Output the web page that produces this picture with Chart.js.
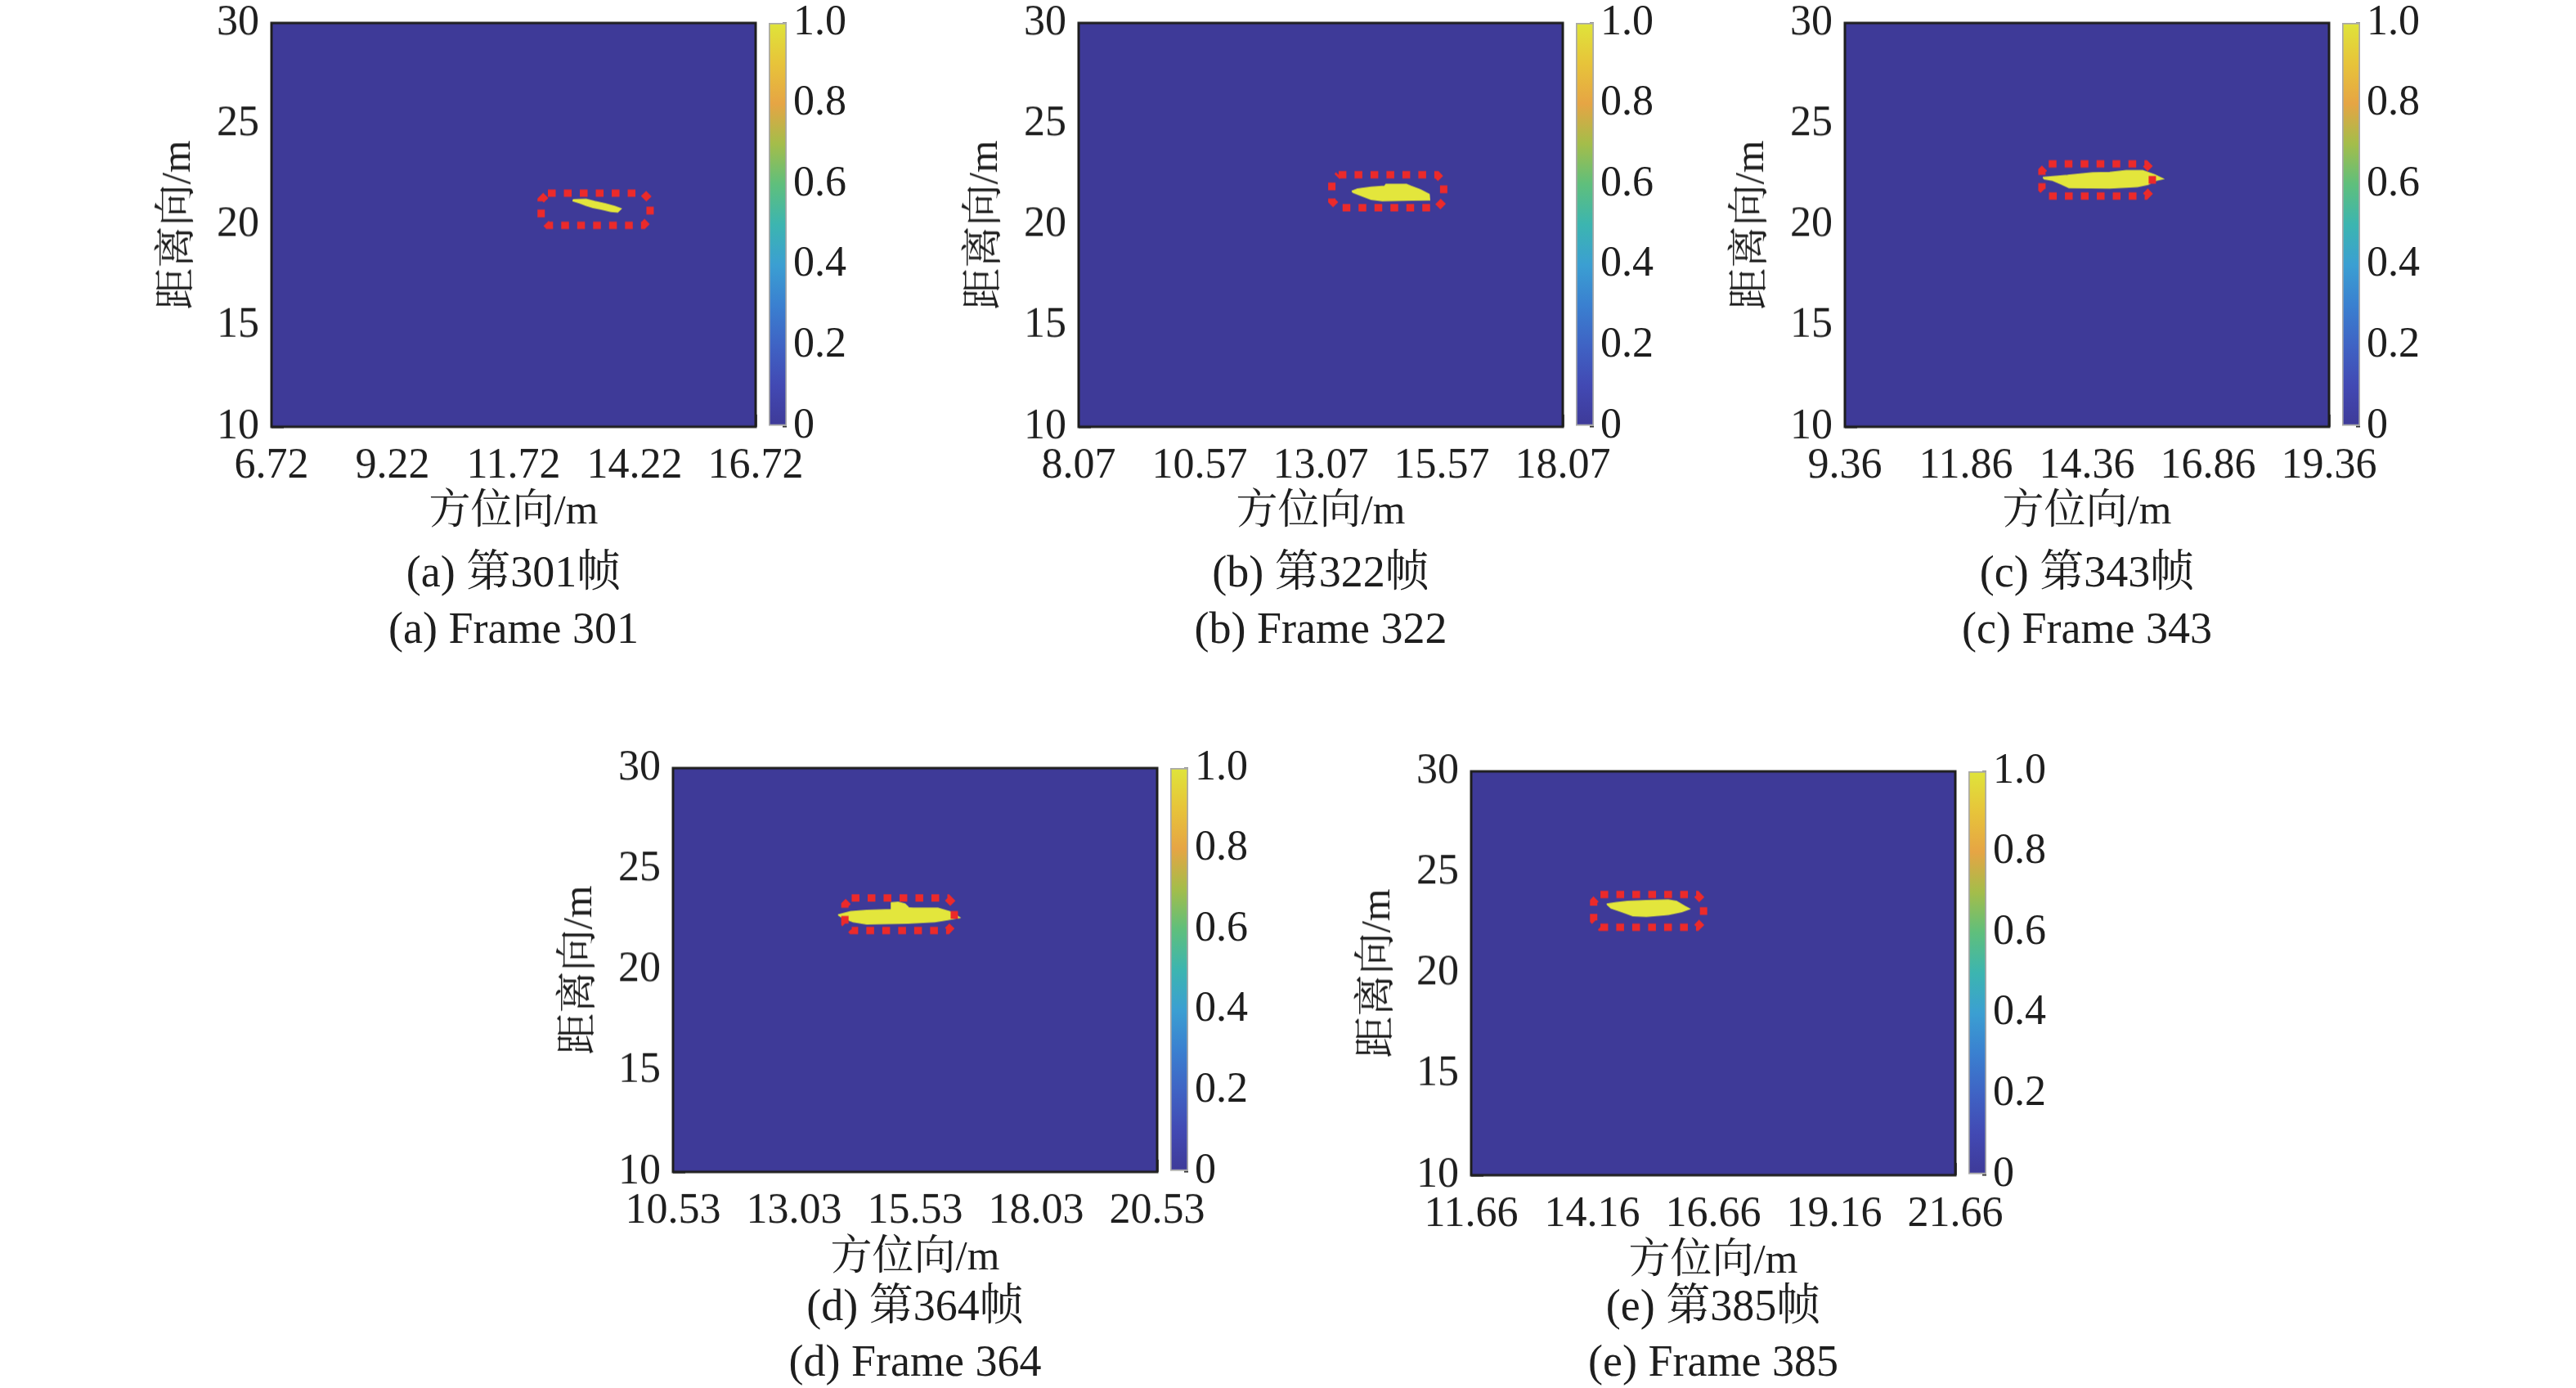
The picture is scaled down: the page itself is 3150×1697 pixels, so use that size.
<!DOCTYPE html>
<html>
<head>
<meta charset="utf-8">
<script src="https://cdn.jsdelivr.net/npm/chart.js@4.4.1/dist/chart.umd.min.js"></script>
<style>
  html, body { margin: 0; padding: 0; background: #fff; }
  body { width: 3150px; height: 1697px; position: relative; overflow: hidden;
         font-family: "Liberation Serif", "Noto Serif CJK SC", "Noto Sans CJK SC", serif; color: #1e1e1e; }
  .holder { position: absolute; }
  .cap { position: absolute; width: 800px; text-align: center; font-size: 54px; line-height: 60px; white-space: nowrap; }
</style>
</head>
<body>
<script>
// Five radar frames: binary detection map (range vs azimuth) with the target
// blob, a dotted red box round it and a parula colour bar on the right.

const LETTERS = ["a", "b", "c", "d", "e"];
const FRAMES = [301, 322, 343, 364, 385];
const Y_TICKS = [10, 15, 20, 25, 30];
const CB_TICKS = [0, 0.2, 0.4, 0.6, 0.8, 1.0];

const X_TICKS_A = [6.72, 9.22, 11.72, 14.22, 16.72];
const X_TICKS_B = [8.07, 10.57, 13.07, 15.57, 18.07];
const X_TICKS_C = [9.36, 11.86, 14.36, 16.86, 19.36];
const X_TICKS_D = [10.53, 13.03, 15.53, 18.03, 20.53];
const X_TICKS_E = [11.66, 14.16, 16.66, 19.16, 21.66];

// dotted box round the target: [x left, x right, y bottom, y top]
const BOX_A = [12.29, 14.54, 19.98, 21.57];
const BOX_B = [13.30, 15.61, 20.85, 22.48];
const BOX_C = [13.43, 15.71, 21.43, 23.02];
const BOX_D = [14.08, 16.34, 21.96, 23.57];
const BOX_E = [14.19, 16.46, 22.28, 23.90];

// outline of the detected cells (value 1), [azimuth m, range m]
const TARGET_A = [[12.95, 21.25], [13.22, 21.27], [13.40, 21.16], [13.61, 21.05], [13.81, 20.91], [13.94, 20.80],
  [13.87, 20.64], [13.73, 20.67], [13.53, 20.78], [13.36, 20.86], [13.21, 20.97], [13.08, 21.09], [12.95, 21.19]];
const TARGET_B = [[13.71, 21.67], [13.83, 21.78], [14.11, 21.87], [14.39, 21.92], [14.42, 22.01], [14.84, 22.01],
  [14.93, 21.92], [15.13, 21.74], [15.31, 21.51], [15.32, 21.24], [14.96, 21.23], [14.34, 21.20], [14.11, 21.27],
  [13.89, 21.47], [13.75, 21.60]];
const TARGET_C = [[13.45, 22.35], [13.96, 22.45], [14.47, 22.58], [14.83, 22.60], [15.17, 22.69], [15.51, 22.69],
  [15.76, 22.48], [15.93, 22.28], [15.79, 22.21], [15.62, 22.01], [15.40, 21.90], [14.83, 21.83], [13.99, 21.85],
  [13.82, 22.04], [13.65, 22.21], [13.48, 22.28]];
const TARGET_D = [[13.94, 22.73], [14.20, 22.89], [14.53, 22.95], [15.04, 22.99], [15.04, 23.33], [15.18, 23.36],
  [15.32, 23.27], [15.38, 23.13], [15.27, 23.09], [15.49, 23.06], [16.00, 23.06], [16.28, 22.86], [16.45, 22.59],
  [16.28, 22.52], [15.94, 22.39], [15.38, 22.32], [14.53, 22.28], [14.25, 22.39], [14.03, 22.59]];
const TARGET_E = [[14.46, 23.43], [14.66, 23.50], [14.89, 23.56], [15.28, 23.60], [15.73, 23.63], [15.90, 23.56],
  [16.07, 23.32], [16.17, 23.19], [16.01, 23.05], [15.73, 22.91], [15.28, 22.82], [15.00, 22.85], [14.77, 23.05],
  [14.55, 23.23]];

const X_TICKS = [X_TICKS_A, X_TICKS_B, X_TICKS_C, X_TICKS_D, X_TICKS_E];
const BOXES = [BOX_A, BOX_B, BOX_C, BOX_D, BOX_E];
const TARGETS = [TARGET_A, TARGET_B, TARGET_C, TARGET_D, TARGET_E];

// page layout (pixels)
const PLOT_W = 592, PLOT_H = 493, Y_AXIS_W = 144, PAD_TOP = 80, PAD_RIGHT = 120;
const CB_GAP = 16, CB_W = 22, CB_AXIS_W = 100, CB_PAD = 80;
const SLOTS = [
  { left: 332, top: 28, row: 0 },
  { left: 1319, top: 28, row: 0 },
  { left: 2256, top: 28, row: 0 },
  { left: 823, top: 939, row: 1 },
  { left: 1799, top: 943, row: 1 },
];
// axis-title gap below the plot, and caption centre lines on the page
const ROWS = [{ title: 105, cap1: 699, cap2: 768 }, { title: 106, cap1: 1596, cap2: 1664 }];

const INK = "#1e1e1e";
const BG = "#3e3a98";
const YELLOW = "#e3e63c";
const RED = "#ec2a2a";
const FONT = "'Liberation Serif', 'Noto Serif CJK SC', 'Noto Sans CJK SC', serif";
const PARULA = [
  [0.0, "#3e3a98"], [0.1, "#4249b3"], [0.2, "#3f63c4"], [0.3, "#3a80d0"], [0.4, "#3b9fd2"],
  [0.5, "#3cb5b0"], [0.6, "#5fbf7c"], [0.7, "#a4bd4a"], [0.8, "#e6a544"], [0.9, "#e7c43a"], [1.0, "#dfe43a"],
];

const tickFont = { family: FONT, size: 52 };
const titleFont = { family: FONT, size: 51 };

const framePlugin = {
  id: "frame",
  afterDatasetsDraw(chart) {
    const { ctx, chartArea: a } = chart;
    ctx.save();
    ctx.strokeStyle = INK;
    ctx.lineWidth = 3;
    ctx.strokeRect(a.left, a.top, a.right - a.left, a.bottom - a.top);
    ctx.restore();
  },
};

const toPts = (arr) => arr.map(([x, y]) => ({ x, y }));
const closed = (pts) => pts.concat([pts[0]]);

function boxOutline([x0, x1, y0, y1]) {
  const cx = 0.14, cy = 0.34; // chamfered corners
  return closed([
    { x: x0 + cx, y: y1 }, { x: x1 - cx, y: y1 }, { x: x1, y: y1 - cy }, { x: x1, y: y0 + cy },
    { x: x1 - cx, y: y0 }, { x: x0 + cx, y: y0 }, { x: x0, y: y0 + cy }, { x: x0, y: y1 - cy },
  ]);
}

function holder(left, top, w, h) {
  const div = document.createElement("div");
  div.className = "holder";
  Object.assign(div.style, { left: left + "px", top: top + "px", width: w + "px", height: h + "px" });
  const cv = document.createElement("canvas");
  div.appendChild(cv);
  document.body.appendChild(div);
  return cv;
}

function caption(text, cx, cy) {
  const d = document.createElement("div");
  d.className = "cap";
  d.textContent = text;
  d.style.left = (cx - 400) + "px";
  d.style.top = (cy - 30) + "px";
  document.body.appendChild(d);
}

function makePanel(i) {
  const slot = SLOTS[i];
  const row = ROWS[slot.row];
  const xt = X_TICKS[i];
  const xmin = xt[0], xmax = xt[xt.length - 1];
  const xAxisH = row.title + titleFont.size * 1.2 / 2;

  const cv = holder(slot.left - Y_AXIS_W, slot.top - PAD_TOP,
    Y_AXIS_W + PLOT_W + PAD_RIGHT, PAD_TOP + PLOT_H + xAxisH);

  new Chart(cv, {
    type: "line",
    data: {
      datasets: [
        { data: boxOutline(BOXES[i]), borderColor: RED, borderWidth: 9, borderDash: [9.5, 10],
          borderCapStyle: "butt", pointRadius: 0, tension: 0, fill: false, order: 1 },
        { data: closed(toPts(TARGETS[i])), borderColor: YELLOW, backgroundColor: YELLOW, borderWidth: 1.5,
          pointRadius: 0, tension: 0, fill: "shape", order: 2 },
        { data: closed(toPts([[xmin, Y_TICKS[0]], [xmax, Y_TICKS[0]], [xmax, Y_TICKS[4]], [xmin, Y_TICKS[4]]])),
          borderColor: BG, backgroundColor: BG, borderWidth: 1, pointRadius: 0, tension: 0, fill: "shape", order: 3 },
      ],
    },
    options: {
      responsive: true,
      maintainAspectRatio: false,
      animation: false,
      events: [],
      layout: { padding: { left: 0, top: PAD_TOP, right: PAD_RIGHT, bottom: 0 } },
      plugins: { legend: { display: false }, tooltip: { enabled: false } },
      scales: {
        x: {
          type: "linear", min: xmin, max: xmax, z: 1,
          afterBuildTicks: (s) => { s.ticks = xt.map((v) => ({ value: v })); },
          afterFit: (s) => { s.height = xAxisH; },
          ticks: { font: tickFont, color: INK, padding: 32, autoSkip: false, maxRotation: 0,
            callback: (v) => Number(v).toFixed(2) },
          grid: { drawOnChartArea: false, drawTicks: true, tickLength: -15, tickWidth: 2.5, tickColor: INK },
          border: { display: false },
          title: { display: true, text: "方位向/m", font: titleFont, color: INK, padding: 0 },
        },
        y: {
          type: "linear", min: Y_TICKS[0], max: Y_TICKS[Y_TICKS.length - 1], z: 1,
          afterBuildTicks: (s) => { s.ticks = Y_TICKS.map((v) => ({ value: v })); },
          afterFit: (s) => { s.width = Y_AXIS_W; },
          ticks: { font: tickFont, color: INK, padding: 30 },
          grid: { drawOnChartArea: false, drawTicks: true, tickLength: -15, tickWidth: 2.5, tickColor: INK },
          border: { display: false },
          title: { display: true, text: "距离向/m", font: titleFont, color: INK, padding: 0 },
        },
      },
    },
    plugins: [framePlugin],
  });

  // colour bar
  const cb = holder(slot.left + PLOT_W + CB_GAP, slot.top - CB_PAD, CB_W + CB_AXIS_W, CB_PAD * 2 + PLOT_H);
  new Chart(cb, {
    type: "bar",
    data: {
      labels: [""],
      datasets: [{
        data: [1],
        barPercentage: 1, categoryPercentage: 1,
        borderWidth: 2, borderColor: "#a9a9a9", borderSkipped: false,
        backgroundColor: (c) => {
          const a = c.chart.chartArea;
          if (!a) return BG;
          const g = c.chart.ctx.createLinearGradient(0, a.bottom, 0, a.top);
          PARULA.forEach(([t, col]) => g.addColorStop(t, col));
          return g;
        },
      }],
    },
    options: {
      responsive: true,
      maintainAspectRatio: false,
      animation: false,
      events: [],
      layout: { padding: { left: 0, top: CB_PAD, right: 0, bottom: CB_PAD } },
      plugins: { legend: { display: false }, tooltip: { enabled: false } },
      scales: {
        x: { display: false },
        y: {
          position: "right", min: 0, max: 1, z: 1,
          afterBuildTicks: (s) => { s.ticks = CB_TICKS.map((v) => ({ value: v })); },
          afterFit: (s) => { s.width = CB_AXIS_W; },
          ticks: { font: tickFont, color: INK, padding: 13,
            callback: (v) => (v === 0 ? "0" : Number(v).toFixed(1)) },
          grid: { drawOnChartArea: false, drawTicks: true, tickLength: -5, tickWidth: 2, tickColor: "#333" },
          border: { display: false },
        },
      },
    },
  });

  const cx = slot.left + PLOT_W / 2;
  caption(`(${LETTERS[i]}) 第${FRAMES[i]}帧`, cx, row.cap1);
  caption(`(${LETTERS[i]}) Frame ${FRAMES[i]}`, cx, row.cap2);
}

LETTERS.forEach((_, i) => makePanel(i));
</script>
</body>
</html>
